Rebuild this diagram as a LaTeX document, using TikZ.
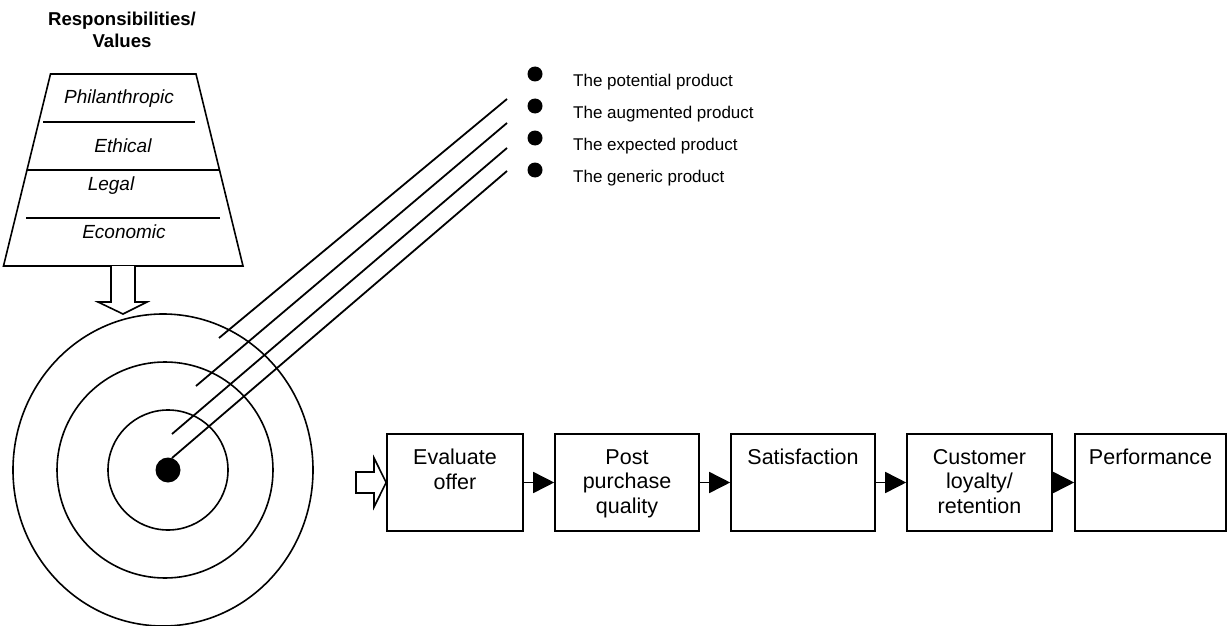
\documentclass[tikz,border=0pt]{standalone}
\usepackage{fontspec}
\setmainfont{Liberation Sans}
\usetikzlibrary{arrows.meta,positioning,calc}
\tikzset{
    stage/.style = {draw, rectangle, line width=1.6pt,
        minimum height=97pt, inner sep=0pt},
    stagetext/.style = {anchor=north, align=center, inner sep=0pt,
        font=\fontsize{21.5}{24.5}\selectfont},
    flow/.style = {draw, line width=1.6pt, -{Triangle[length=21pt,width=21pt]}},
    hollow/.style = {draw, line width=1.6pt, fill=white},
    level/.style = {anchor=base, inner sep=0pt, font=\fontsize{19}{22}\selectfont\itshape},
    item/.style = {anchor=base west, inner sep=0pt, font=\fontsize{17}{20}\selectfont},
    bullet/.style = {circle, fill=black, inner sep=0pt, minimum size=15pt},
    ring/.style = {draw, line width=1.6pt},
    ray/.style = {draw, line width=1.8pt}
}
\begin{document}
\begin{tikzpicture}[x=1pt,y=-1pt]
    \useasboundingbox (0,0) rectangle (1227,626);
    \node [anchor=north, align=center, inner sep=0pt,
        font=\fontsize{18.6}{22}\selectfont\bfseries] (title) at (122,11.5) {Responsibilities/\\Values};
    \coordinate (ptl) at (50.5,74);
    \coordinate (ptr) at (196,74);
    \coordinate (pbr) at (243,266);
    \coordinate (pbl) at (3.5,266);
    \draw [line width=1.6pt] (ptl) -- (ptr) -- (pbr) -- (pbl) -- cycle;
    \draw [line width=1.6pt] (43,122) -- (195,122);
    \draw [line width=1.6pt] (27,170) -- (219.5,170);
    \draw [line width=1.6pt] (26,218) -- (220,218);
    \node [level] (phil) at (119,103) {Philanthropic};
    \node [level] (eth) at (123,152) {Ethical};
    \node [level] (leg) at (111,190) {Legal};
    \node [level] (eco) at (124,238) {Economic};
    \draw [hollow] (111,266) -- (111,302) -- (98,302) -- (123,314) -- (147,302) -- (135,302) -- (135,266);
    \draw [ring] (163,470) ellipse [x radius=150pt, y radius=156pt];
    \draw [ring] (165,470) circle (108pt);
    \draw [ring] (168,470) circle (60pt);
    \node [bullet, minimum size=25pt] (core) at (168,470) {};
    \foreach \sx/\sy/\ey in {219/338/99, 196/386/123, 172/434/148, 172/458/171}
        \draw [ray] (\sx,\sy) -- (507,\ey);
    \foreach \y/\txt [count=\i] in {74/The potential product, 106/The augmented product,
        138/The expected product, 170/The generic product} {
        \node [bullet] (dot\i) at (535,\y) {};
        \node [item] (item\i) at (573,\y+12) {\txt};
    }
    \foreach \nm/\cx/\w/\txt in {eval/455/136/{Evaluate\\offer}, post/627/144/{Post\\purchase\\quality},
        sat/803/144/{Satisfaction}, loyal/979.5/145/{Customer\\loyalty/\\retention}, perf/1150.5/151/{Performance}} {
        \node [stage, minimum width=\w pt] (\nm) at (\cx,482.5) {};
        \node [stagetext] (\nm-t) at ($(\nm.north)+(0,16)$) {\txt};
    }
    \foreach \a/\b in {eval/post, post/sat, sat/loyal, loyal/perf}
        \draw [flow] (\a.east) -- (\b.west);
    \draw [hollow] (356,472) -- (374,472) -- (374,458) -- (eval.west) -- (374,507) -- (374,493) -- (356,493) -- cycle;
\end{tikzpicture}
\end{document}
